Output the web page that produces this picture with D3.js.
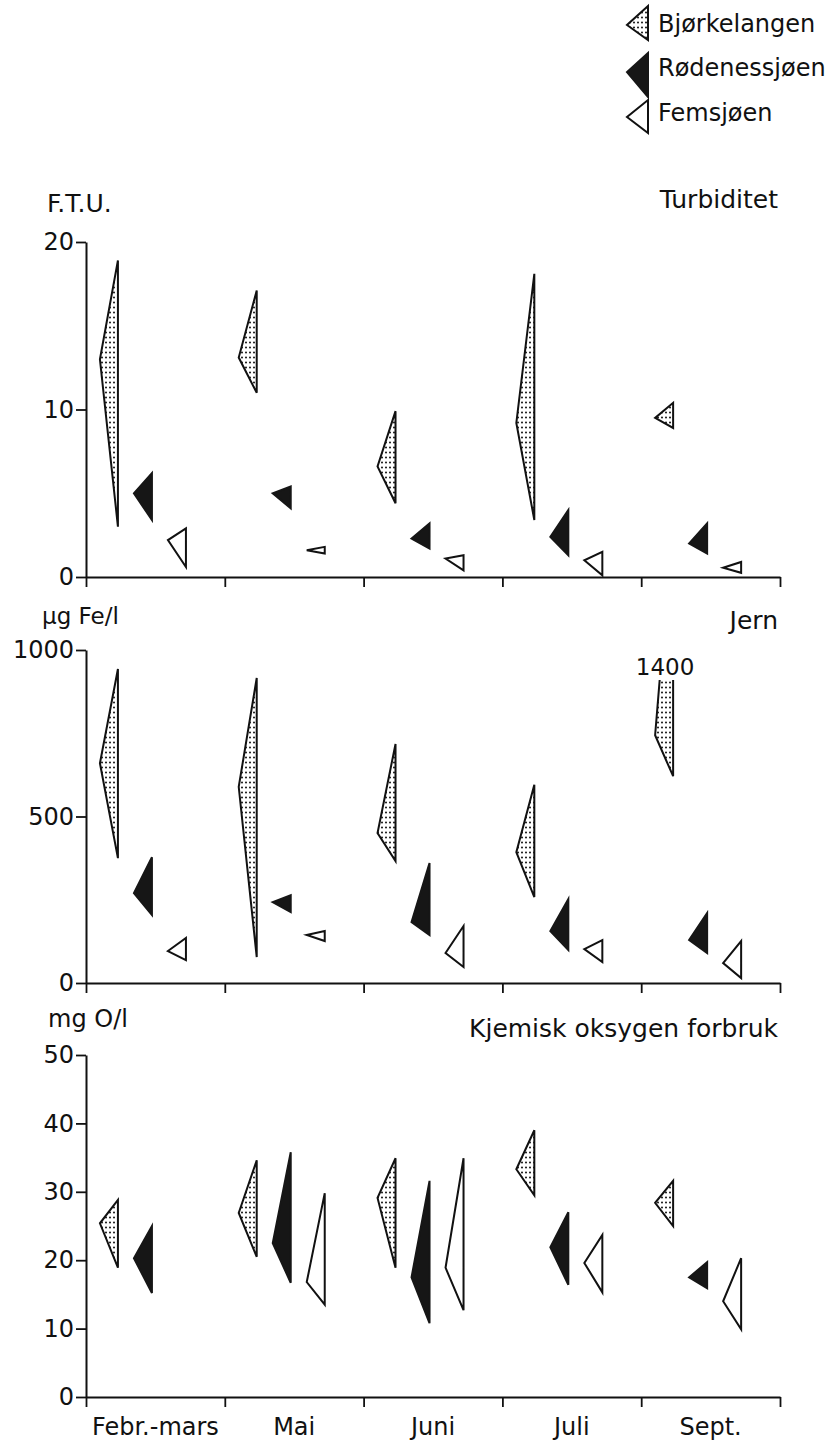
<!DOCTYPE html>
<html>
<head>
<meta charset="utf-8">
<script src="https://cdn.jsdelivr.net/npm/d3@7"></script>
<style>
  html, body { margin: 0; padding: 0; background: #fff; }
  svg { display: block; }
  text { font-family: "DejaVu Sans", sans-serif; fill: #111; }
</style>
</head>
<body>
<svg id="chart" width="833" height="1448"></svg>
<script>
// ---------------- DATA ----------------
const months = ["Febr.-mars", "Mai", "Juni", "Juli", "Sept."];
const stations = ["Bjørkelangen", "Rødenessjøen", "Femsjøen"];

// each entry: [min, mean, max]  (null = no sample)
const turbBjorkelangen = [[3.0, 13.0, 18.9], [11.0, 13.1, 17.1], [4.4, 6.6, 9.9], [3.4, 9.2, 18.1], [8.9, 9.5, 10.4]];
const turbRodenessjoen = [[3.4, 5.0, 6.2], [4.1, 5.0, 5.4], [1.7, 2.3, 3.2], [1.3, 2.4, 4.0], [1.4, 2.0, 3.2]];
const turbFemsjoen     = [[0.6, 2.2, 2.9], [1.4, 1.6, 1.8], [0.4, 1.1, 1.3], [0.1, 1.0, 1.5], [0.25, 0.55, 0.9]];

const jernBjorkelangen = [[375, 660, 943], [78, 589, 916], [366, 450, 718], [258, 393, 595], [621, 744, 1400]];
const jernRodenessjoen = [[204, 270, 378], [213, 243, 264], [144, 183, 360], [99, 156, 252], [90, 129, 210]];
const jernFemsjoen     = [[69, 96, 135], [126, 144, 156], [48, 90, 171], [63, 102, 129], [15, 60, 126]];
const jernCutValue = 910;      // where the off-scale 1400 triangle is cut off
const jernCutLabel = "1400";

const kofBjorkelangen = [[18.9, 25.4, 28.8], [20.5, 26.9, 34.6], [18.9, 29.1, 34.9], [29.5, 33.3, 39.0], [25.0, 28.4, 31.6]];
const kofRodenessjoen = [[15.2, 20.3, 25.0], [16.7, 22.5, 35.8], [10.8, 17.5, 31.6], [16.4, 21.9, 27.0], [15.9, 17.5, 19.7]];
const kofFemsjoen     = [null, [13.5, 16.8, 29.8], [12.7, 18.9, 34.9], [15.3, 19.6, 23.7], [9.9, 14.0, 20.3]];

const turbTicks = [0, 10, 20];
const jernTicks = [0, 500, 1000];
const kofTicks = [0, 10, 20, 30, 40, 50];

// ---------------- LAYOUT ----------------
const svg = d3.select("#chart");
const X0 = 86, X1 = 780;
const xBand = d3.scaleBand().domain(months).range([X0, X1]).padding(0);
const xIdx = d3.scaleLinear().domain([0, months.length]).range([X0, X1]);
const subFrac = [0.23, 0.475, 0.72];
const triW = 18;

const defs = svg.append("defs");
const pat = defs.append("pattern").attr("id", "dots")
  .attr("patternUnits", "userSpaceOnUse").attr("width", 4).attr("height", 5);
pat.append("rect").attr("width", 4).attr("height", 5).attr("fill", "#fff");
pat.append("circle").attr("cx", 2).attr("cy", 2.5).attr("r", 1.0).attr("fill", "#111");

const styles = [
  { fill: "url(#dots)", stroke: "#111" },
  { fill: "#161616", stroke: "#161616" },
  { fill: "#fff", stroke: "#111" }
];

const panels = [
  { series: [turbBjorkelangen, turbRodenessjoen, turbFemsjoen],
    y: d3.scaleLinear().domain([0, 20]).range([577, 242]), ticks: turbTicks,
    unit: "F.T.U.", unitX: 47, unitY: 212, unitSize: 25,
    title: "Turbiditet", titleY: 208 },
  { series: [jernBjorkelangen, jernRodenessjoen, jernFemsjoen],
    y: d3.scaleLinear().domain([0, 1000]).range([983, 650]), ticks: jernTicks,
    unit: "µg Fe/l", unitX: 42, unitY: 624, unitSize: 23,
    title: "Jern", titleY: 629 },
  { series: [kofBjorkelangen, kofRodenessjoen, kofFemsjoen],
    y: d3.scaleLinear().domain([0, 50]).range([1397, 1055]), ticks: kofTicks,
    unit: "mg O/l", unitX: 48, unitY: 1027, unitSize: 24,
    title: "Kjemisk oksygen forbruk", titleY: 1037 }
];

panels.forEach((p, pi) => {
  const g = svg.append("g");
  const y = p.y;
  const y0 = y(0);

  // y axis
  const ya = g.append("g").attr("transform", `translate(${X0},0)`)
    .call(d3.axisLeft(y).tickValues(p.ticks).tickFormat(d3.format("d"))
      .tickSize(10).tickSizeOuter(0).tickPadding(2));
  ya.select(".domain").attr("stroke", "#111").attr("stroke-width", 2);
  ya.selectAll(".tick line").attr("stroke", "#111").attr("stroke-width", 1.8);
  ya.selectAll(".tick text").attr("font-size", 24).attr("font-family", "DejaVu Sans").attr("fill", "#111");

  // x axis (boundary ticks)
  const xa = g.append("g").attr("transform", `translate(0,${y0})`)
    .call(d3.axisBottom(xIdx).ticks(months.length).tickSize(10).tickSizeOuter(0).tickFormat(""));
  xa.select(".domain").attr("stroke", "#111").attr("stroke-width", 2);
  xa.selectAll(".tick line").attr("stroke", "#111").attr("stroke-width", 1.8);

  // labels
  g.append("text").attr("x", p.unitX).attr("y", p.unitY).attr("font-size", p.unitSize).text(p.unit);
  g.append("text").attr("x", X1 - 2).attr("y", p.titleY).attr("text-anchor", "end").attr("font-size", 25).text(p.title);

  // clip for off-scale values
  const clipId = "clip" + pi;
  defs.append("clipPath").attr("id", clipId).append("rect")
    .attr("x", 0).attr("width", 833)
    .attr("y", pi === 1 ? y(jernCutValue) : 0)
    .attr("height", 1448);

  // triangles
  p.series.forEach((ser, si) => {
    ser.forEach((d, mi) => {
      if (!d) return;
      const [mn, mean, mx] = d;
      const xv = xBand(months[mi]) + subFrac[si] * xBand.bandwidth();
      const path = d3.path();
      path.moveTo(xv, y(mx));
      path.lineTo(xv, y(mn));
      path.lineTo(xv - triW, y(mean));
      path.closePath();
      const el = g.append("path").attr("d", path.toString())
        .attr("fill", styles[si].fill).attr("stroke", styles[si].stroke)
        .attr("stroke-width", 2).attr("stroke-linejoin", "miter");
      if (pi === 1 && mx > y.domain()[1]) {
        el.attr("clip-path", `url(#${clipId})`);
        g.append("text").attr("x", xv - 8).attr("y", y(jernCutValue) - 5)
          .attr("text-anchor", "middle").attr("font-size", 23).text(jernCutLabel);
      }
    });
  });
});

// month labels under the bottom panel
svg.append("g").selectAll("text").data(months).join("text")
  .attr("x", d => xBand(d) + xBand.bandwidth() / 2)
  .attr("y", 1435).attr("text-anchor", "middle").attr("font-size", 24)
  .text(d => d);

// legend
const legY = [[6, 25, 40], [53, 72, 97], [100, 117, 133]]; // top, apex, bottom
const legTextY = [32, 76, 121];
const lg = svg.append("g");
stations.forEach((s, i) => {
  const p = d3.path();
  p.moveTo(648, legY[i][0]); p.lineTo(648, legY[i][2]); p.lineTo(627, legY[i][1]); p.closePath();
  lg.append("path").attr("d", p.toString()).attr("fill", styles[i].fill)
    .attr("stroke", styles[i].stroke).attr("stroke-width", 2);
  lg.append("text").attr("x", 658).attr("y", legTextY[i]).attr("font-size", 24).text(s);
});
</script>
</body>
</html>
